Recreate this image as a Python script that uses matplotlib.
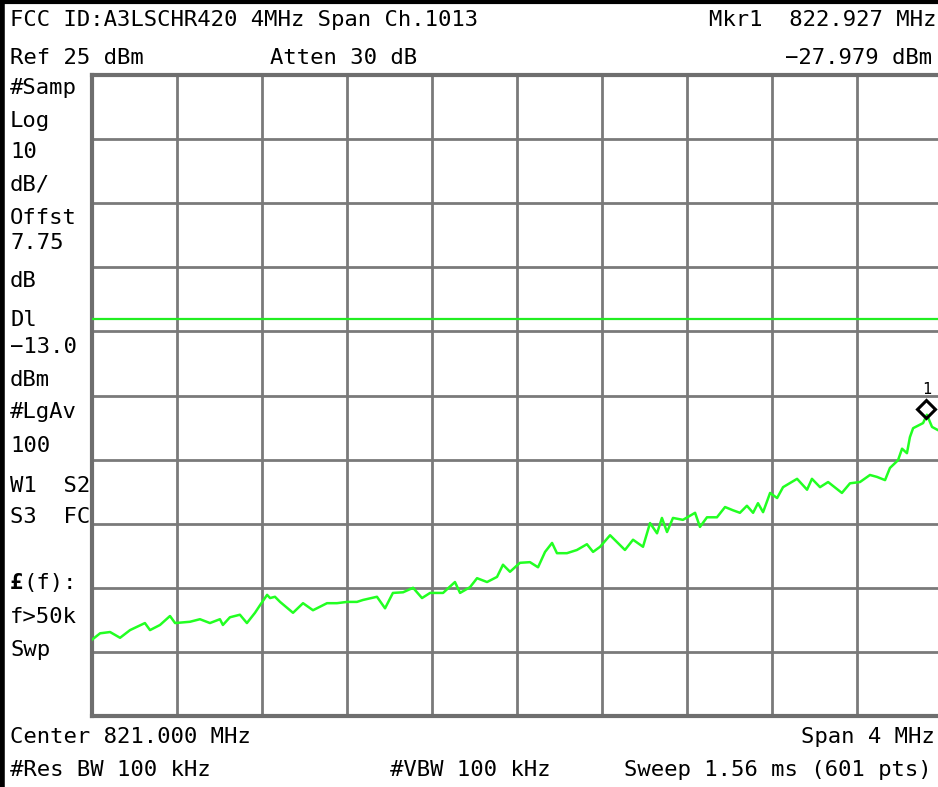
import numpy as np
import matplotlib
matplotlib.use('Agg')
import matplotlib.pyplot as plt
from matplotlib import transforms

# trace (MHz, dBm)
freq = [819.000, 819.038, 819.085, 819.132, 819.179, 819.249, 819.273, 819.320,
        819.367, 819.391, 819.461, 819.508, 819.555, 819.602, 819.616, 819.649,
        819.696, 819.729, 819.767, 819.791, 819.824, 819.838, 819.861, 819.885,
        819.946, 819.993, 820.040, 820.106, 820.153, 820.200, 820.247, 820.275,
        820.341, 820.379, 820.416, 820.464, 820.511, 820.553, 820.591, 820.652,
        820.708, 820.732, 820.779, 820.812, 820.859, 820.906, 820.934, 820.967,
        821.014, 821.061, 821.099, 821.132, 821.165, 821.188, 821.235, 821.282,
        821.329, 821.358, 821.391, 821.438, 821.508, 821.546, 821.593, 821.626,
        821.659, 821.682, 821.706, 821.734, 821.781, 821.838, 821.861, 821.894,
        821.941, 821.979, 822.016, 822.049, 822.082, 822.111, 822.134, 822.158,
        822.191, 822.224, 822.252, 822.318, 822.365, 822.388, 822.426, 822.464,
        822.529, 822.567, 822.614, 822.661, 822.694, 822.732, 822.755, 822.793,
        822.812, 822.835, 822.849, 822.864, 822.911, 822.929, 822.953, 822.981,
        823.000]
level = [-63.1, -62.1, -61.9, -62.8, -61.6, -60.5, -61.6, -60.8,
         -59.4, -60.5, -60.3, -59.9, -60.5, -59.9, -60.8, -59.6,
         -59.2, -60.5, -58.9, -57.7, -56.1, -56.6, -56.4, -57.2,
         -58.9, -57.4, -58.5, -57.4, -57.4, -57.2, -57.2, -56.9,
         -56.4, -58.2, -55.8, -55.7, -55.0, -56.6, -55.8, -55.8,
         -54.1, -55.8, -54.9, -53.5, -54.1, -53.3, -51.4, -52.5,
         -51.1, -51.0, -51.8, -49.4, -48.0, -49.6, -49.6, -49.1,
         -48.2, -49.4, -48.6, -46.8, -49.1, -47.5, -48.6, -44.9,
         -46.5, -44.1, -46.3, -44.1, -44.4, -43.3, -45.5, -44.0,
         -44.0, -42.4, -42.9, -43.3, -42.2, -43.3, -41.8, -43.2,
         -40.2, -41.0, -39.3, -38.0, -39.7, -38.0, -39.3, -38.5,
         -40.2, -38.7, -38.5, -37.4, -37.7, -38.2, -36.3, -35.1,
         -33.3, -34.0, -31.5, -30.1, -29.3, -28.0, -29.9, -30.4,
         -30.7]

ref_level = 25
db_per_div = 10
center = 821.0
span = 4.0
display_line = -13.0
mkr_freq = 822.927
mkr_level = -27.979

left_labels = [("#Samp", 88), ("Log", 121), ("10", 152), ("dB/", 185),
               ("Offst", 218), ("7.75", 243), ("dB", 281), ("Dl", 320),
               ("\u221213.0", 347), ("dBm", 380), ("#LgAv", 412), ("100", 446),
               ("W1  S2", 486), ("S3  FC", 517), ("f>50k", 617), ("Swp", 650)]

W, H = 938, 787
fig = plt.figure(figsize=(W / 100, H / 100), dpi=100)
fig.patch.set_facecolor('white')

ax = fig.add_axes([92 / W, 1 - 716 / H, 850 / W, 641 / H])
ax.set_xlim(center - span / 2, center + span / 2)
ax.set_ylim(ref_level - 10 * db_per_div, ref_level)
ax.set_xticks(np.linspace(center - span / 2, center + span / 2, 11))
ax.set_yticks(np.arange(ref_level - 10 * db_per_div, ref_level + 1, db_per_div))
ax.grid(True, color='#7a7a7a', linewidth=2)
ax.tick_params(length=0, labelbottom=False, labelleft=False)
for s in ax.spines.values():
    s.set_color('#6e6e6e')
    s.set_linewidth(3)

ax.axhline(display_line, color='#22ee22', linewidth=1.6, zorder=3)
ax.plot(freq, level, color='#22ff22', linewidth=1.8, zorder=4)

up = transforms.offset_copy(ax.transData, fig=fig, x=0, y=6, units='dots')
ax.plot([mkr_freq], [mkr_level], marker='D', markersize=9, markerfacecolor='none',
        markeredgecolor='black', markeredgewidth=2.2, transform=up, zorder=5,
        clip_on=False)
up2 = transforms.offset_copy(ax.transData, fig=fig, x=0, y=25, units='dots')
ax.text(mkr_freq, mkr_level, "1", transform=up2, ha='center', va='center',
        fontsize=11, family='DejaVu Sans Mono')

mono = dict(family='DejaVu Sans Mono', fontsize=16, color='black', va='center')

def put(x, y, s, ha='left', **kw):
    d = dict(mono)
    d.update(kw)
    fig.text(x / W, 1 - y / H, s, ha=ha, **d)

put(10, 20, "FCC ID:A3LSCHR420 4MHz Span Ch.1013")
put(936, 20, "Mkr1  822.927 MHz", ha='right')
put(10, 58, "Ref 25 dBm")
put(270, 58, "Atten 30 dB")
put(932, 58, "\u221227.979 dBm", ha='right')
for s, y in left_labels:
    put(10, y, s)
put(10, 583, "\u00a3", fontweight='bold')
put(23, 583, "(f):")
put(10, 737, "Center 821.000 MHz")
put(935, 737, "Span 4 MHz", ha='right')
put(10, 770, "#Res BW 100 kHz")
put(390, 770, "#VBW 100 kHz")
put(932, 770, "Sweep 1.56 ms (601 pts)", ha='right')

# black screen frame on the left and top
fig.add_artist(plt.Line2D([2 / W, 2 / W], [0, 1], color='black', linewidth=4,
                          transform=fig.transFigure))
fig.add_artist(plt.Line2D([0, 1], [1 - 1.5 / H, 1 - 1.5 / H], color='black',
                          linewidth=3, transform=fig.transFigure))

fig.savefig('out.png', dpi=100)
